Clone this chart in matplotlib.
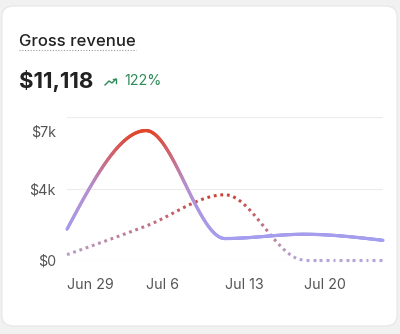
import matplotlib.pyplot as plt
import numpy as np
from matplotlib.collections import LineCollection
from matplotlib.colors import LinearSegmentedColormap
from matplotlib.patches import FancyBboxPatch
from matplotlib.lines import Line2D

plt.rcParams['font.family'] = ['Inter', 'DejaVu Sans']

# weekly points
dates = ['2025-06-29', '2025-07-06', '2025-07-13', '2025-07-20', '2025-07-27']
tick_labels = ['Jun 29', 'Jul 6', 'Jul 13', 'Jul 20']
current = [1720, 7240, 1200, 1440, 1100]
previous = [300, 1900, 3650, 0, 0]
grid_vals = [0, 4000, 8000]
ytick_labels = ['$0', '$4k', '$7k']

days = (np.array(dates, dtype='datetime64[D]') - np.datetime64(dates[0])).astype(float)

W, H = 400, 334
fig = plt.figure(figsize=(W / 100, H / 100), dpi=100)
fig.patch.set_facecolor('#f1f1f1')

card = FancyBboxPatch((2 / W, 8 / H), 395 / W, 320 / H,
                      boxstyle='round,pad=0,rounding_size=0.03',
                      transform=fig.transFigure, facecolor='white',
                      edgecolor='#e6e6e6', linewidth=0.8, zorder=-10)
fig.add_artist(card)

# header
fig.text(19 / W, 1 - 46 / H, 'Gross revenue', fontsize=12, color='#222222',
         fontweight='medium', va='baseline')
fig.add_artist(Line2D([19 / W, 136 / W], [1 - 50 / H, 1 - 50 / H],
                      color='#9a9a9a', lw=0.8, ls=(0, (1, 1.5))))
fig.text(19 / W, 1 - 88 / H, '$11,118', fontsize=16, color='#222222',
         fontweight='bold', va='baseline')
# trending-up icon
icon_x = np.array([105, 109, 112, 116]) / W
icon_y = 1 - np.array([85, 81, 83, 79]) / H
fig.add_artist(Line2D(icon_x, icon_y, color='#2e8b57', lw=1.0))
fig.add_artist(Line2D(np.array([112.5, 116, 116]) / W, 1 - np.array([79, 79, 82.5]) / H,
                      color='#2e8b57', lw=1.0))
fig.text(124 / W, 1 - 85 / H, '122%', fontsize=10.3, color='#2e8b57', va='baseline')

ax = fig.add_axes([67 / W, 1 - 260 / H, 316 / W, 143 / H])
ax.set_xlim(days[0], days[-1])
ax.set_ylim(0, 8000)
for s in ax.spines.values():
    s.set_visible(False)
ax.patch.set_alpha(0)
for g in grid_vals:
    ax.axhline(g, color='#ececec', lw=0.8, zorder=0)

ax.set_yticks([0, 4000, max(current)])
ax.set_yticklabels(ytick_labels)
ax.set_xticks(days[:4])
ax.set_xticklabels(tick_labels, ha='left')
ax.tick_params(length=0, labelsize=10.3, labelcolor='#555555')
ax.tick_params(axis='y', pad=8)
ax.tick_params(axis='x', pad=13)


def monotone(x, y, n=400):
    x = np.asarray(x, float)
    y = np.asarray(y, float)
    h = np.diff(x)
    s = np.diff(y) / h
    m = np.zeros_like(y)
    for i in range(1, len(y) - 1):
        if s[i - 1] * s[i] > 0:
            p = (s[i - 1] * h[i] + s[i] * h[i - 1]) / (h[i - 1] + h[i])
            m[i] = (np.sign(s[i - 1]) + np.sign(s[i])) * min(abs(s[i - 1]), abs(s[i]), 0.5 * abs(p))
    m[0] = (3 * s[0] - m[1]) / 2
    m[-1] = (3 * s[-1] - m[-2]) / 2
    xs = np.linspace(x[0], x[-1], n)
    idx = np.clip(np.searchsorted(x, xs) - 1, 0, len(x) - 2)
    t = (xs - x[idx]) / h[idx]
    h00 = 2 * t**3 - 3 * t**2 + 1
    h10 = t**3 - 2 * t**2 + t
    h01 = -2 * t**3 + 3 * t**2
    h11 = t**3 - t**2
    ys = h00 * y[idx] + h10 * h[idx] * m[idx] + h01 * y[idx + 1] + h11 * h[idx] * m[idx + 1]
    return xs, ys


cmap_cur = LinearSegmentedColormap.from_list('cur', ['#a49ef0', '#b58fcf', '#e2452a'])
cmap_prev = LinearSegmentedColormap.from_list('prev', ['#b6a4d6', '#c9443a'])

# current period, solid gradient
xs, ys = monotone(days, current)
pts = np.column_stack([xs, ys])
segs = np.stack([pts[:-1], pts[1:]], axis=1)
mid = (ys[:-1] + ys[1:]) / 2
lc = LineCollection(segs, cmap=cmap_cur, norm=plt.Normalize(min(current), max(current)),
                    linewidths=2.3, capstyle='round', clip_on=False, zorder=3)
lc.set_array(mid)
ax.add_collection(lc)

# previous period, dotted gradient
xp, yp = monotone(days, previous, n=1500)
disp = ax.transData.transform(np.column_stack([xp, yp]))
arc = np.concatenate([[0], np.cumsum(np.hypot(*np.diff(disp, axis=0).T))])
period, dot = 6.6, 2.8
starts = np.arange(0, arc[-1] - dot + 0.01, period)
dsegs = []
for s0 in starts:
    s1 = s0 + dot
    dsegs.append([[np.interp(s0, arc, xp), np.interp(s0, arc, yp)],
                  [np.interp(s1, arc, xp), np.interp(s1, arc, yp)]])
dsegs = np.array(dsegs)
dl = LineCollection(dsegs, cmap=cmap_prev, norm=plt.Normalize(min(previous), max(previous)),
                    linewidths=2.2, capstyle='butt', clip_on=False, zorder=2)
dl.set_array(dsegs[:, :, 1].mean(axis=1))
ax.add_collection(dl)

fig.savefig('out.png', dpi=100, facecolor=fig.get_facecolor())
